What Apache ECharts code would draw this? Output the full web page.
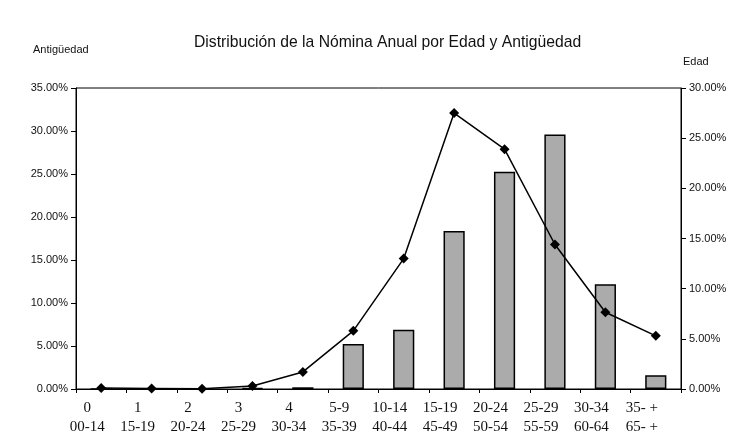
<!DOCTYPE html>
<html>
<head>
<meta charset="utf-8">
<script src="https://cdn.jsdelivr.net/npm/echarts@6/dist/echarts.min.js"></script>
<style>html,body{margin:0;padding:0;background:#fff;}#c{width:734px;height:445px;}</style>
</head>
<body>
<div id="c"></div>
<script>
const antiguedadLabels = ['0','1','2','3','4','5-9','10-14','15-19','20-24','25-29','30-34','35- +'];
const edadLabels = ['00-14','15-19','20-24','25-29','30-34','35-39','40-44','45-49','50-54','55-59','60-64','65- +'];
const antiguedadValues = [0, 0, 0, 0.1, 0.2, 5.24, 6.88, 18.37, 25.26, 29.58, 12.17, 1.6];
const edadValues = [0.1, 0.05, 0.02, 0.3, 1.7, 5.8, 13.0, 27.5, 23.9, 14.4, 7.65, 5.3];
const leftTicks = {min: 0, max: 35, interval: 5};
const rightTicks = {min: 0, max: 30, interval: 5};

const categories = antiguedadLabels.map((a, i) => a + '\n' + edadLabels[i]);
const chart = echarts.init(document.getElementById('c'), null, {renderer: 'canvas'});
const pct = v => v.toFixed(2) + '%';
chart.setOption({
  animation: false,
  backgroundColor: '#fff',
  title: {
    text: 'Distribución de la Nómina Anual por Edad y Antigüedad',
    left: 189, top: 30,
    textStyle: {fontFamily: 'Liberation Sans', fontSize: 15.7, fontWeight: 'normal', color: '#111'}
  },
  graphic: [
    {type: 'text', left: 33, top: 44, style: {text: 'Antigüedad', font: '11px "Liberation Sans"', fill: '#111'}},
    {type: 'text', left: 683, top: 56, style: {text: 'Edad', font: '11px "Liberation Sans"', fill: '#111'}}
  ],
  grid: {left: 76, right: 53, top: 88, bottom: 56, show: true, borderColor: '#000', borderWidth: 1},
  xAxis: {
    type: 'category',
    data: categories,
    boundaryGap: true,
    axisLine: {lineStyle: {color: '#000', width: 1}},
    axisTick: {show: true, length: 4, lineStyle: {color: '#000'}},
    axisLabel: {
      interval: 0, margin: 10, color: '#111',
      fontFamily: 'Liberation Serif', fontSize: 15, lineHeight: 19,
      padding: [0, 28, 0, 0]
    }
  },
  yAxis: [
    {
      type: 'value', position: 'left', min: leftTicks.min, max: leftTicks.max, interval: leftTicks.interval,
      axisLine: {show: true, lineStyle: {color: '#000'}},
      axisTick: {show: true, length: 5, lineStyle: {color: '#000'}},
      splitLine: {show: false},
      axisLabel: {formatter: pct, color: '#111', fontFamily: 'Liberation Sans', fontSize: 11, margin: 8}
    },
    {
      type: 'value', position: 'right', min: rightTicks.min, max: rightTicks.max, interval: rightTicks.interval,
      axisLine: {show: true, lineStyle: {color: '#000'}},
      axisTick: {show: true, length: 5, lineStyle: {color: '#000'}},
      splitLine: {show: false},
      axisLabel: {formatter: pct, color: '#111', fontFamily: 'Liberation Sans', fontSize: 11, margin: 8}
    }
  ],
  series: [
    {
      name: 'Antigüedad', type: 'bar', yAxisIndex: 0, data: antiguedadValues,
      barWidth: '42%',
      itemStyle: {color: '#ababab', borderColor: '#000', borderWidth: 1.5}
    },
    {
      name: 'Edad', type: 'line', yAxisIndex: 1, data: edadValues,
      symbol: 'diamond', symbolSize: 10, showSymbol: true,
      lineStyle: {color: '#000', width: 1.5},
      itemStyle: {color: '#000'}
    }
  ]
});
</script>
</body>
</html>
